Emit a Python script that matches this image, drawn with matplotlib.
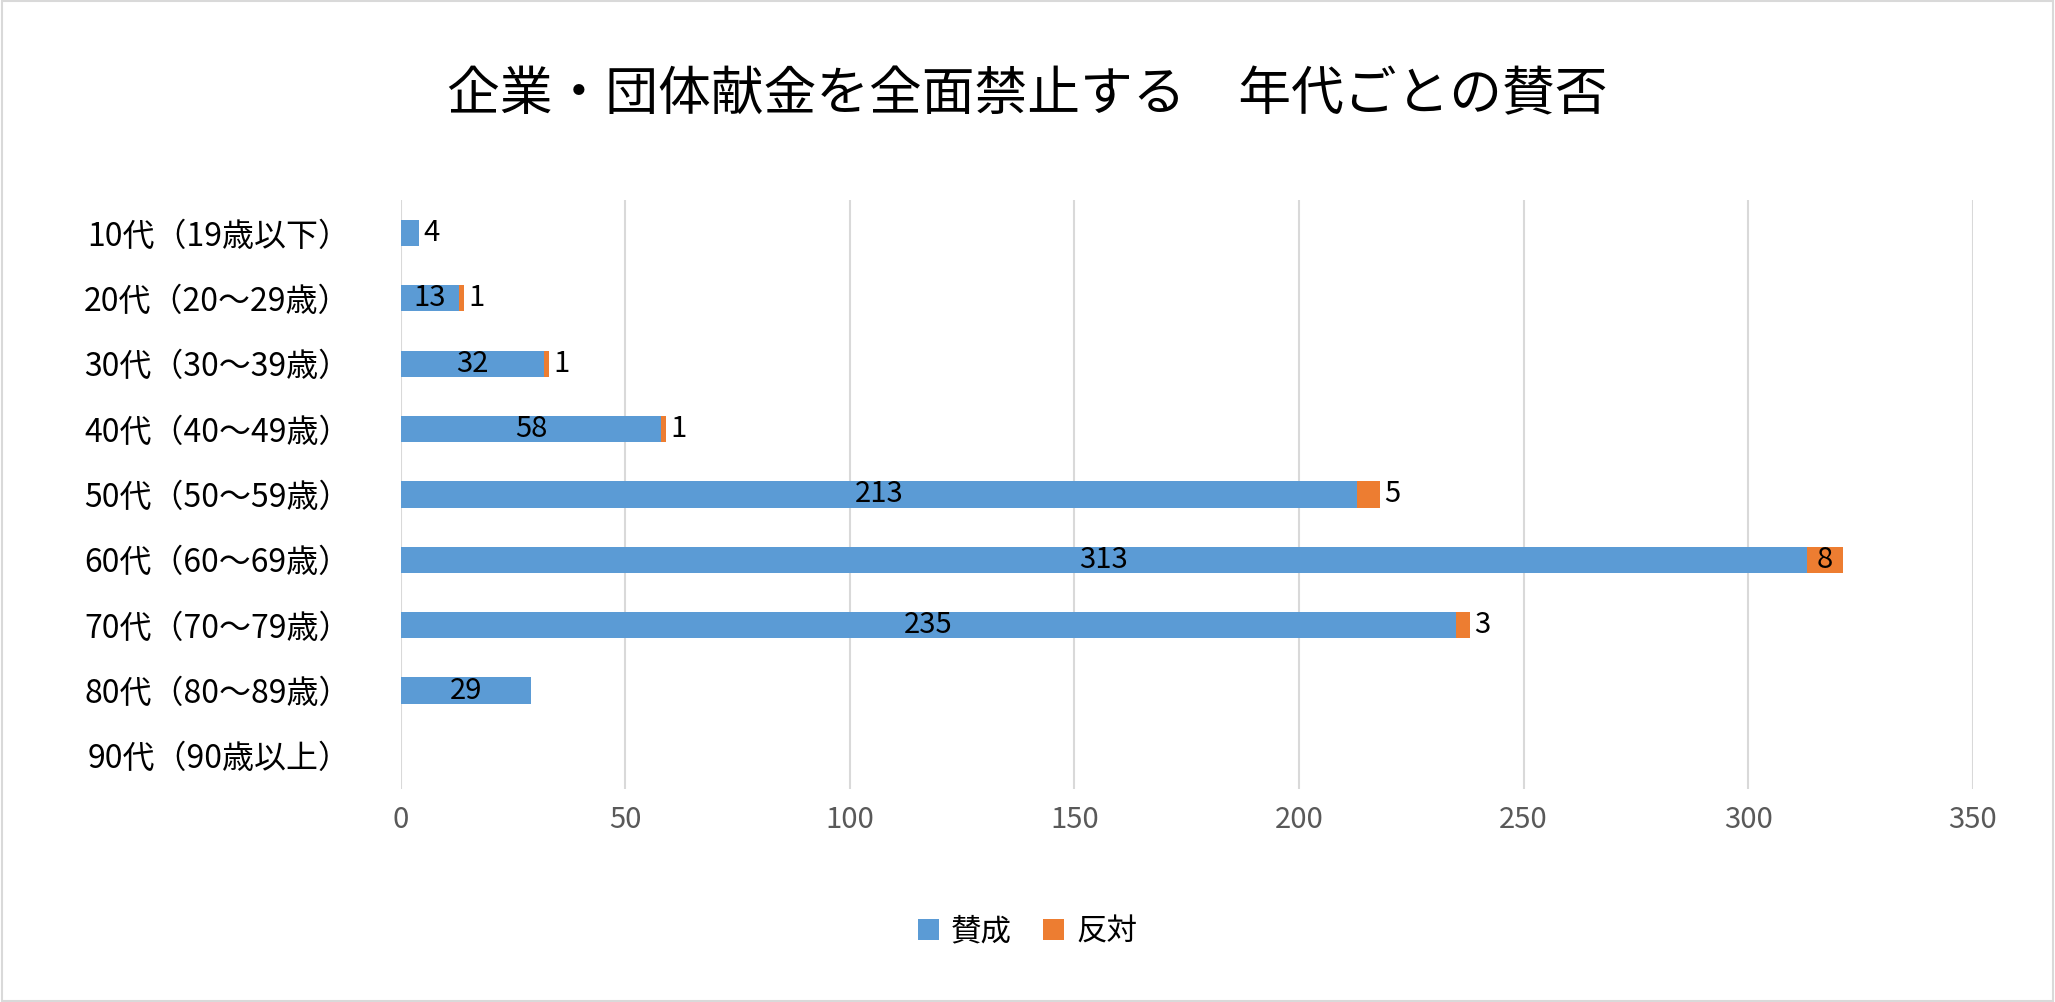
import matplotlib
matplotlib.use("Agg")
import matplotlib.pyplot as plt
import numpy as np

plt.rcParams["font.family"] = "Noto Sans CJK JP"

categories = ["10代（19歳以下）", "20代（20～29歳）", "30代（30～39歳）", "40代（40～49歳）",
              "50代（50～59歳）", "60代（60～69歳）", "70代（70～79歳）", "80代（80～89歳）", "90代（90歳以上）"]
agree = [4, 13, 32, 58, 213, 313, 235, 29, 0]
oppose = [0, 1, 1, 1, 5, 8, 3, 0, 0]
xticks = [0, 50, 100, 150, 200, 250, 300, 350]

blue = "#5B9BD5"
orange = "#ED7D31"

fig = plt.figure(figsize=(20.55, 10.02), dpi=100)
fig.patch.set_facecolor("white")
fig.add_artist(plt.Rectangle((0.001, 0.001), 0.998, 0.998, transform=fig.transFigure,
                             fill=False, edgecolor="#D9D9D9", linewidth=1.5))
ax = fig.add_axes([0.195, 0.213, 0.765, 0.587])
y = np.arange(len(categories))
ax.barh(y, agree, height=0.4, color=blue, label="賛成", zorder=3)
ax.barh(y, oppose, left=agree, height=0.4, color=orange, label="反対", zorder=3)

fs = 21
for i, (a, o) in enumerate(zip(agree, oppose)):
    if a > 0:
        if a < 8:
            ax.text(a + 1, i, str(a), va="center", ha="left", fontsize=fs)
        else:
            ax.text(a / 2, i, str(a), va="center", ha="center", fontsize=fs)
    if o > 0:
        if o >= 8:
            ax.text(a + o / 2, i, str(o), va="center", ha="center", fontsize=fs)
        else:
            ax.text(a + o + 1, i, str(o), va="center", ha="left", fontsize=fs)

ax.set_xlim(0, 350)
ax.set_ylim(len(categories) - 0.5, -0.5)
ax.set_yticks(y)
ax.set_yticklabels(categories, fontsize=23)
ax.set_xticks(xticks)
ax.set_xticklabels([str(t) for t in xticks], fontsize=21, color="#595959")
ax.tick_params(length=0, pad=12)
ax.tick_params(axis="y", pad=36)
ax.grid(axis="x", color="#D9D9D9", linewidth=1.5, zorder=0)
for s in ax.spines.values():
    s.set_visible(False)

fig.text(0.5, 0.905, "企業・団体献金を全面禁止する　年代ごとの賛否", ha="center", va="center", fontsize=38)
fig.legend(loc="center", bbox_to_anchor=(0.5, 0.07), ncol=2, frameon=False, fontsize=22,
           handlelength=0.7, handleheight=0.7, columnspacing=1.0, handletextpad=0.4)
fig.savefig("out.png", dpi=100)
